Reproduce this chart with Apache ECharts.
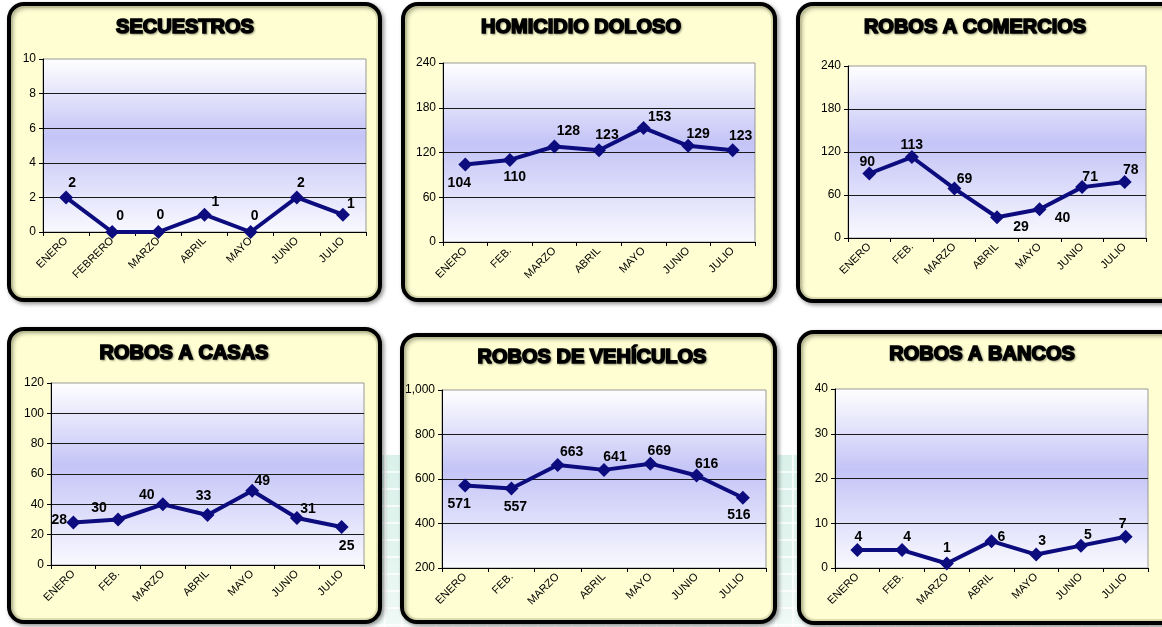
<!DOCTYPE html>
<html>
<head>
<meta charset="utf-8">
<script src="https://cdn.jsdelivr.net/npm/echarts@6/dist/echarts.min.js"></script>
<style>
  html, body { margin: 0; padding: 0; background: #fff; }
  #main { width: 1162px; height: 627px; }
</style>
</head>
<body>
<div id="main"></div>
<script>
// meses
const MESES_LARGO = ['ENERO', 'FEBRERO', 'MARZO', 'ABRIL', 'MAYO', 'JUNIO', 'JULIO']
const MESES_CORTO = ['ENERO', 'FEB.', 'MARZO', 'ABRIL', 'MAYO', 'JUNIO', 'JULIO']

// valores por delito
const secuestros = [2, 0, 0, 1, 0, 2, 1]
const homicidioDoloso = [104, 110, 128, 123, 153, 129, 123]
const robosComercios = [90, 113, 69, 29, 40, 71, 78]
const robosCasas = [28, 30, 40, 33, 49, 31, 25]
const robosVehiculos = [571, 557, 663, 641, 669, 616, 516]
const robosBancos = [4, 4, 1, 6, 3, 5, 7]

// ejes: [min, max, intervalo]
const ejeSecuestros = [0, 10, 2]
const ejeHomicidio = [0, 240, 60]
const ejeComercios = [0, 240, 60]
const ejeCasas = [0, 120, 20]
const ejeVehiculos = [200, 1000, 200]
const ejeBancos = [0, 40, 10]

const NAVY = '#0c0c7e'
const FONT = '"Liberation Sans", Arial, sans-serif'

// layout of each panel (box, plot area, title, label nudges)
const panels = [
  { title: 'SECUESTROS', cats: MESES_LARGO, values: secuestros, axis: ejeSecuestros,
    box: [9, 4, 371, 296], grid: [43, 59, 323, 173], titleAt: [185, 27],
    off: [[6, -14], [8, -16], [2, -17], [11, -13], [4, -16], [4, -14], [8, -11]] },
  { title: 'HOMICIDIO DOLOSO', cats: MESES_CORTO, values: homicidioDoloso, axis: ejeHomicidio,
    box: [403, 4, 372, 296], grid: [443, 63, 312, 179], titleAt: [581, 27],
    off: [[-6, 19], [5, 17], [14, -15], [8, -15], [16, -11], [10, -12], [8, -14]] },
  { title: 'ROBOS A COMERCIOS', cats: MESES_CORTO, values: robosComercios, axis: ejeComercios,
    box: [798, 4, 380, 297], grid: [848, 66, 298, 172], titleAt: [975, 27],
    off: [[-2, -11], [0, -12], [10, -9], [24, 10], [23, 9], [8, -10], [6, -12]] },
  { title: 'ROBOS A CASAS', cats: MESES_CORTO, values: robosCasas, axis: ejeCasas,
    box: [9, 329, 371, 293], grid: [51, 383, 313, 182], titleAt: [184, 353],
    off: [[-14, -2], [-19, -11], [-16, -9], [-4, -19], [10, -10], [11, -9], [5, 19]] },
  { title: 'ROBOS DE VEHÍCULOS', cats: MESES_CORTO, values: robosVehiculos, axis: ejeVehiculos,
    box: [402, 335, 373, 287], grid: [442, 390, 324, 178], titleAt: [592, 357],
    off: [[-6, 19], [4, 19], [14, -13], [11, -13], [9, -13], [10, -11], [-4, 17]] },
  { title: 'ROBOS A BANCOS', cats: MESES_CORTO, values: robosBancos, axis: ejeBancos,
    box: [799, 332, 380, 291], grid: [835, 389, 313, 179], titleAt: [982, 354],
    off: [[1, -13], [5, -13], [0, -15], [10, -4], [6, -13], [7, -10], [-3, -13]] },
]

const chart = echarts.init(document.getElementById('main'))

function plotFill() {
  return new echarts.graphic.LinearGradient(0, 0, 0, 1, [
    { offset: 0, color: '#ffffff' },
    { offset: 0.45, color: '#c4c4f7' },
    { offset: 1, color: '#f9f9ff' },
  ])
}

// faint teal tile pattern behind the lower panels
const backdrop = [{ type: 'rect', z: -30, shape: { x: 360, y: 455, width: 802, height: 172 },
  style: { fill: new echarts.graphic.LinearGradient(0, 0, 0, 1, [
    { offset: 0, color: 'rgba(205,236,227,0.75)' },
    { offset: 0.6, color: 'rgba(215,240,232,0.7)' },
    { offset: 1, color: 'rgba(225,244,238,0.5)' },
  ]) } }]
for (let y = 472; y < 627; y += 17) {
  backdrop.push({ type: 'line', z: -29, shape: { x1: 360, y1: y, x2: 1162, y2: y }, style: { stroke: '#fff', lineWidth: 1.5 } })
}
for (let x = 368; x < 1162; x += 17) {
  backdrop.push({ type: 'line', z: -29, shape: { x1: x, y1: 455, x2: x, y2: 627 }, style: { stroke: '#fff', lineWidth: 1.5 } })
}

const graphics = backdrop.slice()
panels.forEach((p) => {
  const [x, y, w, h] = p.box
  graphics.push({
    type: 'rect', z: -20,
    shape: { x, y, width: w, height: h, r: 15 },
    style: {
      fill: '#fefed2', stroke: '#000', lineWidth: 4,
      shadowBlur: 4, shadowColor: 'rgba(0,0,0,0.35)', shadowOffsetX: 2, shadowOffsetY: 2,
    },
  })
  graphics.push({
    type: 'rect', z: -19,
    shape: { x: x + 3, y: y + 3, width: w - 6, height: h - 6, r: 12 },
    style: { fill: 'none', stroke: 'rgba(170,170,120,0.35)', lineWidth: 2 },
  })
  graphics.push({
    type: 'text', z: 10,
    style: {
      text: p.title, x: p.titleAt[0], y: p.titleAt[1],
      align: 'center', verticalAlign: 'middle',
      font: 'bold 20px ' + FONT, fill: '#000', stroke: '#000', lineWidth: 1.6,
      textShadowColor: 'rgba(0,0,0,0.3)', textShadowBlur: 2, textShadowOffsetX: 1, textShadowOffsetY: 1,
    },
  })
})

const option = {
  animation: false,
  backgroundColor: '#fff',
  textStyle: { fontFamily: FONT },
  graphic: graphics,
  grid: panels.map((p) => ({
    left: p.grid[0], top: p.grid[1], width: p.grid[2], height: p.grid[3],
    outerBoundsMode: 'none',
    show: true, backgroundColor: plotFill(), borderColor: '#999', borderWidth: 1, z: 1,
  })),
  xAxis: panels.map((p, i) => ({
    type: 'category', gridIndex: i, data: p.cats, boundaryGap: true, z: 2,
    axisLine: { lineStyle: { color: '#000', width: 1 } },
    axisTick: { show: true, length: 4, lineStyle: { color: '#000' } },
    axisLabel: { rotate: 45, fontSize: 11, color: '#000', margin: 7, interval: 0, fontFamily: FONT },
    splitLine: { show: false },
  })),
  yAxis: panels.map((p, i) => ({
    type: 'value', gridIndex: i, min: p.axis[0], max: p.axis[1], interval: p.axis[2], z: 2,
    axisLine: { show: true, lineStyle: { color: '#000', width: 1 } },
    axisTick: { show: true, length: 4, lineStyle: { color: '#000' } },
    axisLabel: {
      fontSize: 12, color: '#000', margin: 7, fontFamily: FONT,
      formatter: (v) => v.toLocaleString('en-US'),
    },
    splitLine: { show: true, showMaxLine: false, lineStyle: { color: '#1a1a1a', width: 1 } },
  })),
  series: panels.map((p, i) => ({
    type: 'line', xAxisIndex: i, yAxisIndex: i, z: 3,
    data: p.values.map((v, j) => ({
      value: v,
      label: { offset: p.off[j] },
    })),
    symbol: 'diamond', symbolSize: 14, showSymbol: true,
    lineStyle: { color: NAVY, width: 4 },
    itemStyle: { color: NAVY },
    label: {
      show: true, position: 'inside', color: '#000',
      fontWeight: 'bold', fontSize: 14, fontFamily: FONT,
    },
  })),
}

chart.setOption(option)
</script>
</body>
</html>
